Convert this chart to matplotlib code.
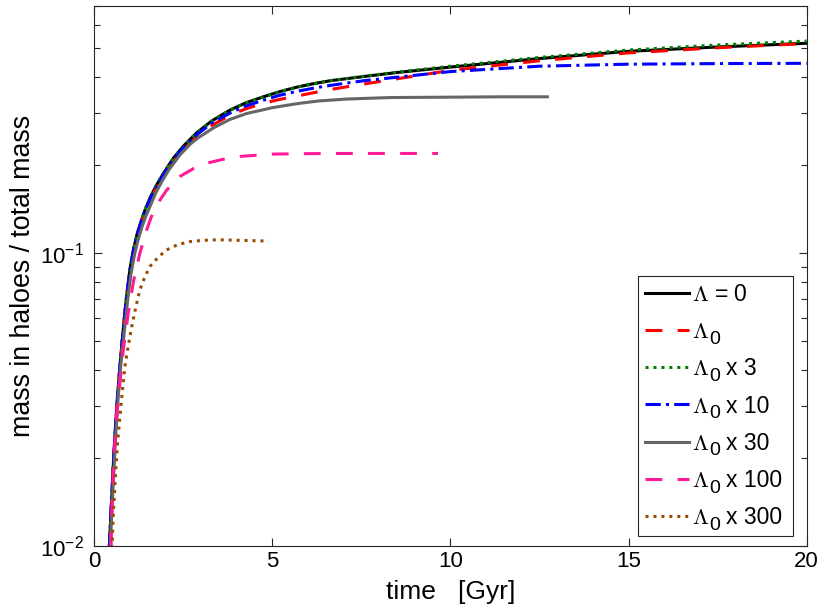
import matplotlib
matplotlib.use("Agg")
import matplotlib.pyplot as plt
from matplotlib.ticker import LogLocator, NullFormatter, FixedLocator

plt.rcParams['font.family'] = ['Liberation Sans', 'DejaVu Sans']
plt.rcParams['mathtext.fontset'] = 'cm'

# time [Gyr] and mass fraction
t_lam0 = [0.42, 0.455, 0.49, 0.53, 0.58, 0.65, 0.72, 0.82, 0.9, 1.0, 1.1, 1.2, 1.3,
          1.42, 1.58, 1.75, 1.95, 2.22, 2.5, 2.88, 3.3, 3.81, 4.25, 4.75, 5.2, 5.69,
          6.15, 6.62, 7.56, 8.5, 10, 12.5, 15, 17.5, 20]
f_lam0 = [0.0098, 0.012, 0.0146, 0.0185, 0.0238, 0.032, 0.041, 0.056, 0.07, 0.088,
          0.103, 0.116, 0.127, 0.140, 0.156, 0.171, 0.188, 0.211, 0.232, 0.258, 0.283,
          0.308, 0.326, 0.342, 0.356, 0.369, 0.379, 0.388, 0.401, 0.414, 0.432, 0.462,
          0.489, 0.506, 0.521]

t_x1 = t_lam0
f_x1 = [0.0098, 0.012, 0.0146, 0.0185, 0.0238, 0.032, 0.041, 0.056, 0.07, 0.087,
        0.102, 0.115, 0.126, 0.138, 0.153, 0.168, 0.184, 0.206, 0.226, 0.25, 0.273,
        0.296, 0.311, 0.325, 0.335, 0.344, 0.353, 0.362, 0.378, 0.394, 0.421, 0.454,
        0.483, 0.503, 0.52]

t_x3 = t_lam0
f_x3 = [0.0098, 0.012, 0.0146, 0.0185, 0.0238, 0.032, 0.041, 0.056, 0.07, 0.088,
        0.103, 0.116, 0.127, 0.140, 0.156, 0.171, 0.188, 0.211, 0.232, 0.258, 0.283,
        0.308, 0.326, 0.342, 0.356, 0.369, 0.379, 0.388, 0.402, 0.415, 0.435, 0.466,
        0.494, 0.514, 0.53]

t_x10 = t_lam0
f_x10 = [0.0098, 0.012, 0.0146, 0.0185, 0.0238, 0.032, 0.041, 0.056, 0.07, 0.087,
         0.102, 0.115, 0.126, 0.139, 0.154, 0.169, 0.186, 0.208, 0.229, 0.254, 0.278,
         0.301, 0.318, 0.333, 0.346, 0.357, 0.366, 0.374, 0.388, 0.399, 0.417, 0.435,
         0.442, 0.444, 0.445]

t_x30 = [0.44, 0.48, 0.51, 0.55, 0.6, 0.67, 0.74, 0.85, 0.93, 1.03, 1.13, 1.23, 1.34,
         1.45, 1.55, 1.72, 1.9, 2.1, 2.41, 2.7, 2.9, 3.35, 3.8, 4.28, 4.65, 5.0, 5.69,
         6.3, 7.09, 8.31, 10, 11.5, 12.72]
f_x30 = [0.0098, 0.012, 0.0144, 0.018, 0.0238, 0.032, 0.041, 0.055, 0.068, 0.085,
         0.099, 0.111, 0.123, 0.134, 0.143, 0.16, 0.176, 0.193, 0.217, 0.236, 0.247,
         0.268, 0.286, 0.300, 0.307, 0.314, 0.324, 0.331, 0.336, 0.34, 0.341, 0.342,
         0.342]

t_x100 = [0.47, 0.50, 0.53, 0.57, 0.63, 0.72, 0.815, 0.95, 1.1, 1.28, 1.47, 1.6, 1.75,
          2.03, 2.41, 2.8, 3.16, 3.6, 4.09, 5.03, 6.5, 8.0, 9.65]
f_x100 = [0.0098, 0.0135, 0.0175, 0.022, 0.0277, 0.036, 0.0468, 0.062, 0.080, 0.100,
          0.120, 0.133, 0.146, 0.164, 0.183, 0.195, 0.203, 0.209, 0.214, 0.218, 0.219,
          0.219, 0.219]

t_x300 = [0.5, 0.53, 0.57, 0.61, 0.66, 0.72, 0.79, 0.86, 0.95, 1.05, 1.16, 1.28, 1.42,
          1.56, 1.8, 2.03, 2.35, 2.69, 3.0, 3.3, 3.62, 4.2, 4.89]
f_x300 = [0.0098, 0.0125, 0.0155, 0.0187, 0.023, 0.0277, 0.034, 0.041, 0.048, 0.056,
          0.065, 0.075, 0.083, 0.090, 0.097, 0.1026, 0.107, 0.1095, 0.1105, 0.111,
          0.111, 0.1105, 0.110]

# legend text: Lambda goes in the legend, the big low subscript and factor are added after
labels = [r'$\Lambda$ = 0'] + [r'$\Lambda$'] * 6
subs = ['', '0', '0', '0', '0', '0', '0']
factors = ['', '', 'x 3', 'x 10', 'x 30', 'x 100', 'x 300']

fig = plt.figure(figsize=(8.3, 6.13), dpi=100)
ax = fig.add_axes([0.1136, 0.1093, 0.8583, 0.8814])

lw = 2.2
ax.plot(t_lam0, f_lam0, color='black', lw=lw, label=labels[0])
ax.plot(t_x1, f_x1, color='red', lw=lw, ls=(0, (5.5, 5)), label=labels[1])
ax.plot(t_x3, f_x3, color='#008000', lw=lw, ls=(0, (1, 1.6)), label=labels[2])
ax.plot(t_x10, f_x10, color='blue', lw=lw, ls=(0, (5, 1.7, 1, 1.7)), label=labels[3])
ax.plot(t_x30, f_x30, color='#666666', lw=lw, label=labels[4])
ax.plot(t_x100, f_x100, color='#ff1a99', lw=lw, ls=(0, (5.5, 5)), label=labels[5])
ax.plot(t_x300, f_x300, color='#994c00', lw=lw, ls=(0, (1, 1.6)), label=labels[6])

ax.set_yscale('log')
ax.set_xlim(0, 20)
ax.set_ylim(0.01, 0.7)
ax.xaxis.set_major_locator(FixedLocator([0, 5, 10, 15, 20]))
ax.yaxis.set_major_locator(LogLocator(base=10))
ax.yaxis.set_minor_locator(LogLocator(base=10, subs=range(2, 10)))
ax.yaxis.set_minor_formatter(NullFormatter())

ax.tick_params(which='both', direction='in', top=True, right=True,
               labelsize=16, color='0.15', width=0.8)
ax.tick_params(which='major', length=6)
ax.tick_params(which='minor', length=4)
ax.tick_params(axis='y', which='major', pad=7.5)
for s in ax.spines.values():
    s.set_color('0.15')
    s.set_linewidth(0.8)

ax.set_xlabel('time   [Gyr]', fontsize=19, labelpad=6)
ax.set_ylabel('mass in haloes / total mass', fontsize=19.3, labelpad=3)

fs_leg = 16.5
leg = ax.legend(loc='upper left', bbox_to_anchor=(0.7628, 0.0, 0.2176, 0.4997),
                mode='expand', borderaxespad=0, fontsize=fs_leg, handlelength=1.96,
                handletextpad=0.1, labelspacing=0.62, borderpad=0.3,
                fancybox=False, framealpha=1)
leg.get_frame().set_edgecolor('0.15')
leg.get_frame().set_linewidth(0.8)

# subscripts and factors next to each legend Lambda
fig.canvas.draw()
rend = fig.canvas.get_renderer()
W, H = fig.bbox.width, fig.bbox.height
for txt, s, fac in zip(leg.get_texts(), subs, factors):
    if not s:
        continue
    x, y = txt.get_transform().transform(txt.get_position())
    lam_w = txt.get_window_extent(rend).width
    fig.text((x + lam_w + 0.8) / W, (y - 5.7) / H, s, fontsize=14,
             ha='left', va='baseline')
    if fac:
        fig.text((x + 34.4) / W, y / H, fac, fontsize=fs_leg,
                 ha='left', va='baseline')

fig.savefig('out.png', dpi=100)
